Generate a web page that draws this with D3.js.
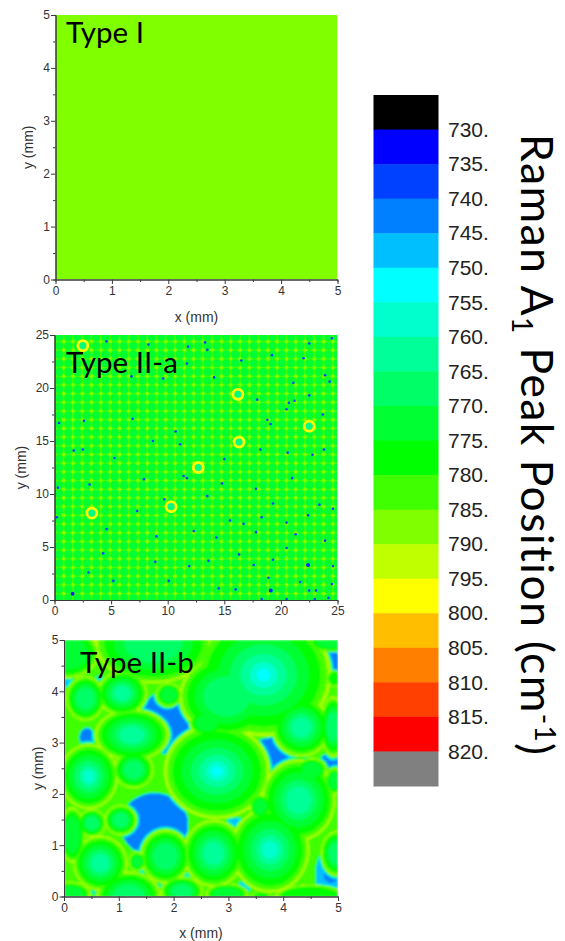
<!DOCTYPE html>
<html>
<head>
<meta charset="utf-8">
<script src="https://d3js.org/d3.v7.min.js"></script>
<style>
  body { margin: 0; background: #fff; }
  svg { display: block; }
  .tick text { font-family: "Liberation Sans", Arial, sans-serif; }
</style>
</head>
<body>
<div id="chart"></div>
<script>
// Colour bar
const bandEdges = [730, 735, 740, 745, 750, 755, 760, 765, 770, 775, 780, 785, 790, 795, 800, 805, 810, 815, 820];
const bandColors = ["#000000", "#0000ff", "#0040ff", "#0080ff", "#00bfff", "#00ffff", "#00ffcc", "#00ff99", "#00ff66",
    "#00ff33", "#00ff00", "#40ff00", "#80ff00", "#bfff00", "#ffff00", "#ffbf00", "#ff8000", "#ff4000", "#ff0000", "#808080"];

// Type I is flat
const typeIValue = 787;

// Type II-a values
const latticeDiscValue = 772;
const latticeBackValue = 782;
const latticeGapValue = 787;
const latticeX = [0.4, 1.22, 2.04, 2.86, 3.68, 4.5, 5.32, 6.14, 6.96, 7.78, 8.6, 9.42, 10.24, 11.06, 11.88,
    12.7, 13.52, 14.34, 15.16, 15.98, 16.8, 17.62, 18.44, 19.26, 20.08, 20.9, 21.72, 22.54, 23.36, 24.18, 25.0];
const latticeY = [0.2, 1.02, 1.84, 2.66, 3.48, 4.3, 5.12, 5.94, 6.76, 7.58, 8.4, 9.22, 10.04, 10.86, 11.68,
    12.5, 13.32, 14.14, 14.96, 15.78, 16.6, 17.42, 18.24, 19.06, 19.88, 20.7, 21.52, 22.34, 23.16, 23.98, 24.8];
const ringCenters = [[2.5, 24], [3.3, 8.2], [10.3, 8.8], [12.7, 12.5], [16.2, 19.4], [16.3, 14.9], [22.5, 16.4]];
const specks = [[4.6, 24.4], [8.3, 24.1], [11.8, 23.9], [13.3, 24.3], [13.5, 23.6], [22.5, 24.2], [24.5, 24.7], [11.7, 22.3],
    [16.5, 22.6], [19.2, 23.1], [22.0, 22.8], [23.9, 21.2], [14.1, 21.0], [6.8, 21.1], [9.6, 20.9], [21.1, 20.5], [24.3, 20.6],
    [22.5, 19.3], [20.5, 18.0], [21.2, 18.8], [17.9, 18.9], [23.7, 17.5], [0.4, 16.7], [2.6, 16.9], [6.9, 17.1], [10.7, 15.9],
    [18.8, 17.0], [19.1, 16.6], [20.7, 18.6], [2.5, 14.2], [1.7, 14.1], [5.3, 13.4], [8.7, 15.0], [11.1, 14.7], [15.0, 13.3],
    [18.2, 14.2], [20.6, 13.9], [22.8, 13.7], [23.8, 14.2], [11.4, 11.7], [11.7, 11.5], [7.9, 11.4], [14.8, 11.0], [17.8, 10.5],
    [21.0, 11.5], [0.3, 10.6], [3.1, 10.9], [9.7, 9.5], [13.5, 9.8], [19.3, 9.1], [23.4, 9.0], [0.2, 7.8], [4.6, 6.7], [7.3, 8.4],
    [15.5, 7.5], [16.7, 7.2], [18.3, 7.8], [20.5, 7.3], [22.4, 8.0], [24.6, 8.6], [9.0, 6.0], [12.3, 6.5], [14.3, 5.9], [17.8, 6.4],
    [21.3, 6.2], [23.9, 5.6], [8.9, 3.6], [4.3, 4.4], [11.9, 3.2], [13.6, 3.7], [16.3, 4.3], [17.6, 3.3], [19.3, 3.8], [20.5, 4.9],
    [24.6, 3.2], [10.1, 1.8], [14.5, 1.1], [16.0, 1.0], [18.9, 2.1], [21.7, 1.7], [22.5, 0.9], [23.1, 0.9], [24.5, 1.5],
    [5.2, 1.8], [18.3, 0.1], [20.5, 0.1], [23.0, 0.1], [24.2, 0.2], [3.0, 2.6]];
const deepSpecks = [[22.4, 3.3], [19.1, 0.9], [1.6, 0.6]];

// Type II-b grains: x, y, x radius, y radius, centre value
const grains = [
    [3.64, 4.32, 1.22, 1.18, 752], [2.97, 3.90, 0.85, 0.78, 765], [2.79, 2.44, 0.95, 0.91, 751], [4.33, 3.30, 0.52, 0.56, 762],
    [4.28, 1.88, 0.66, 0.78, 760], [3.76, 0.91, 0.70, 0.82, 757], [2.73, 0.84, 0.54, 0.64, 762], [1.85, 0.78, 0.44, 0.51, 765],
    [0.66, 0.65, 0.48, 0.52, 760], [0.45, 2.34, 0.52, 0.62, 758], [1.24, 3.15, 0.66, 0.49, 760], [1.06, 3.96, 0.44, 0.42, 763],
    [0.39, 3.86, 0.34, 0.42, 765], [1.27, 2.47, 0.35, 0.35, 767], [1.03, 1.49, 0.28, 0.28, 768], [0.51, 1.43, 0.24, 0.26, 768],
    [1.91, 3.93, 0.22, 0.22, 770], [4.52, 2.47, 0.26, 0.22, 770], [3.58, 1.75, 0.18, 0.22, 770], [1.63, 4.94, 1.05, 0.77, 768],
    [0.05, 4.74, 0.57, 0.47, 770], [4.97, 0.84, 0.27, 0.42, 765], [4.91, 3.31, 0.22, 0.57, 768], [1.18, 0.00, 0.57, 0.47, 768],
    [2.15, 0.10, 0.37, 0.27, 768], [2.97, 0.05, 0.37, 0.19, 770], [4.49, 0.00, 0.62, 0.22, 775], [0.15, 1.20, 0.22, 0.52, 770],
    [1.33, 0.68, 0.14, 0.18, 772], [2.60, 3.38, 0.30, 0.24, 770], [4.90, 4.95, 0.42, 0.17, 772], [0.10, 0.05, 0.37, 0.22, 772],
    [4.93, 2.25, 0.15, 0.24, 770], [4.93, 4.25, 0.12, 0.15, 775], [3.6, 0.0, 0.17, 0.09, 775]
];
// Value between grains, and the gaps that drop to blue: x, y, x radius, y radius, value
const matrixValue = 784;
const gaps = [[1.88, 3.4, 0.50, 0.62, 742], [1.65, 1.4, 0.62, 0.62, 742], [3.9, 2.7, 0.58, 0.42, 742], [0.42, 3.1, 0.14, 0.19, 744],
    [4.9, 4.55, 0.24, 0.30, 742], [4.9, 2.65, 0.24, 0.14, 742], [4.85, 0.42, 0.26, 0.55, 747], [4.87, 0.42, 0.13, 0.15, 742],
    [0.08, 4.2, 0.12, 0.12, 747], [0.65, 0.1, 0.18, 0.07, 742], [1.75, 0.12, 0.1, 0.18, 744], [1.5, 0.5, 0.17, 0.1, 742],
    [3.15, 1.45, 0.18, 0.09, 747], [3.3, 0.2, 0.12, 0.12, 747], [0.5, 4.9, 0.12, 0.1, 742], [0.65, 4.2, 0.12, 0.09, 742],
    [2.25, 0.4, 0.1, 0.1, 747], [3.95, 0.07, 0.12, 0.06, 747], [0.2, 1.83, 0.06, 0.04, 744]];
const rimStops = [0, 0.25, 0.5, 0.75, 0.92, 0.98, 1];
const rimValues = [750, 762, 770, 777, 782, 789, 796];

const width = 565, height = 941;

const band = d3.scaleThreshold().domain(bandEdges).range(bandColors);

const svg = d3.select("#chart")
    .append("svg")
    .attr("width", width)
    .attr("height", height);

const defs = svg.append("defs");
function softFilter(id, amount) {
    defs.append("filter").attr("id", id)
        .attr("x", 0).attr("y", 0).attr("width", 1).attr("height", 1)
        .append("feGaussianBlur").attr("stdDeviation", amount);
}
softFilter("softLattice", 0.7);
softFilter("softGrains", 1);

// Frame, axes and labels for one panel
function panel(box, maxVal, major, minor, xTitleY, yTitleX) {
    const x = d3.scaleLinear().domain([0, maxVal]).range([box.left, box.right]);
    const y = d3.scaleLinear().domain([0, maxVal]).range([box.bottom, box.top]);
    const g = svg.append("g");
    const plot = g.append("g");

    const clipId = "clip" + box.top;
    defs.append("clipPath").attr("id", clipId)
        .append("rect")
        .attr("x", box.left).attr("y", box.top)
        .attr("width", box.right - box.left).attr("height", box.bottom - box.top);
    plot.attr("clip-path", `url(#${clipId})`);

    const axes = g.append("g");
    const styleAxis = sel => {
        sel.selectAll("path, line").attr("stroke", "#3a3a3a");
        sel.selectAll("text").attr("fill", "#333").style("font-size", "12px");
    };
    axes.append("g").attr("transform", `translate(0,${box.bottom})`)
        .call(d3.axisBottom(x).tickValues(minor).tickSize(2.5).tickFormat(""))
        .call(styleAxis);
    axes.append("g").attr("transform", `translate(0,${box.bottom})`)
        .call(d3.axisBottom(x).tickValues(major).tickSize(4.5).tickPadding(2).tickSizeOuter(0).tickFormat(d3.format("d")))
        .call(styleAxis);
    axes.append("g").attr("transform", `translate(${box.left},0)`)
        .call(d3.axisLeft(y).tickValues(minor).tickSize(2.5).tickFormat(""))
        .call(styleAxis);
    axes.append("g").attr("transform", `translate(${box.left},0)`)
        .call(d3.axisLeft(y).tickValues(major).tickSize(4.5).tickPadding(1).tickSizeOuter(0).tickFormat(d3.format("d")))
        .call(styleAxis);

    const axisLabel = g.append("g")
        .attr("font-family", "Liberation Sans, Arial, sans-serif")
        .attr("font-size", 14)
        .attr("fill", "#333")
        .attr("text-anchor", "middle");
    if (xTitleY) {
        axisLabel.append("text")
            .attr("x", (box.left + box.right) / 2).attr("y", xTitleY)
            .text("x (mm)");
    }
    axisLabel.append("text")
        .attr("transform", `translate(${yTitleX},${(box.top + box.bottom) / 2}) rotate(-90)`)
        .text("y (mm)");

    return { x, y, plot, box };
}

function typeLabel(text, px, py) {
    svg.append("text")
        .attr("x", px).attr("y", py)
        .attr("font-family", "Lato, sans-serif")
        .attr("font-size", 29.5)
        .attr("fill", "#000")
        .text(text);
}

// Type I
const p1 = panel({ left: 55.5, right: 337.5, top: 15, bottom: 279.5 }, 5,
    [0, 1, 2, 3, 4, 5], [0.5, 1.5, 2.5, 3.5, 4.5], 322, 33);
p1.plot.append("rect")
    .attr("x", p1.x(0)).attr("y", p1.y(5))
    .attr("width", p1.x(5) - p1.x(0)).attr("height", p1.y(0) - p1.y(5))
    .attr("fill", band(typeIValue));
typeLabel("Type I", 66, 43);

// Type II-a
const p2 = panel({ left: 54.5, right: 337.5, top: 335, bottom: 600 }, 25,
    [0, 5, 10, 15, 20, 25], [2.5, 7.5, 12.5, 17.5, 22.5], null, 26);
const p2Soft = p2.plot.append("g").attr("filter", "url(#softLattice)");
p2Soft.append("rect")
    .attr("x", p2.x(0)).attr("y", p2.y(25))
    .attr("width", p2.x(25) - p2.x(0)).attr("height", p2.y(0) - p2.y(25))
    .attr("fill", band(latticeBackValue));

const lattice = d3.cross(latticeX, latticeY);
// the light crossings sit half a pitch off the disc centres
const pitchX = p2.x(latticeX[1]) - p2.x(latticeX[0]);
const pitchY = p2.y(latticeY[0]) - p2.y(latticeY[1]);
p2Soft.selectAll("circle.gap")
    .data(lattice)
    .enter()
    .append("circle")
    .attr("class", "gap")
    .attr("cx", d => p2.x(d[0]) + pitchX / 2)
    .attr("cy", d => p2.y(d[1]) + pitchY / 2)
    .attr("r", 1.8)
    .attr("fill", band(latticeGapValue));
p2Soft.selectAll("circle.disc")
    .data(lattice)
    .enter()
    .append("circle")
    .attr("class", "disc")
    .attr("cx", d => p2.x(d[0]))
    .attr("cy", d => p2.y(d[1]))
    .attr("r", 3.9)
    .attr("fill", band(latticeDiscValue));
p2Soft.selectAll("circle.speck")
    .data(specks)
    .enter()
    .append("circle")
    .attr("class", "speck")
    .attr("cx", d => p2.x(d[0]))
    .attr("cy", d => p2.y(d[1]))
    .attr("r", 1.3)
    .attr("fill", "#0040ff");
p2Soft.selectAll("circle.deep")
    .data(deepSpecks)
    .enter()
    .append("circle")
    .attr("class", "deep")
    .attr("cx", d => p2.x(d[0]))
    .attr("cy", d => p2.y(d[1]))
    .attr("r", 2)
    .attr("fill", "#0020ff");
p2Soft.selectAll("circle.ring")
    .data(ringCenters)
    .enter()
    .append("circle")
    .attr("class", "ring")
    .attr("cx", d => p2.x(d[0]))
    .attr("cy", d => p2.y(d[1]))
    .attr("r", 5)
    .attr("fill", "#00ff80")
    .attr("stroke", "#ffff00")
    .attr("stroke-width", 2.8);
typeLabel("Type II-a", 66, 373);

// Type II-b
const p3 = panel({ left: 64, right: 338, top: 640, bottom: 896.5 }, 5,
    [0, 1, 2, 3, 4, 5], [0.5, 1.5, 2.5, 3.5, 4.5], 938, 43);

const rim = d3.scaleLinear().domain(rimStops).range(rimValues);
const nx = Math.round(p3.x(5) - p3.x(0));
const ny = Math.round(p3.y(0) - p3.y(5));
const field = new Float64Array(nx * ny);
const pxPerMm = (p3.x(1) - p3.x(0) + p3.y(0) - p3.y(1)) / 2;

// each pixel takes its value from the grain it lies deepest in
for (let j = 0; j < ny; j++) {
    for (let i = 0; i < nx; i++) {
        const mx = p3.x.invert(p3.box.left + i + 0.5);
        const my = p3.y.invert(p3.box.top + j + 0.5);
        let best = Infinity, peak = 0, size = 1;
        grains.forEach(g => {
            const d = Math.hypot((mx - g[0]) / g[2], (my - g[1]) / g[3]);
            if (d < best) { best = d; peak = g[4]; size = (g[2] + g[3]) / 2; }
        });
        let floor = matrixValue;
        gaps.forEach(p => {
            if (Math.hypot((mx - p[0]) / p[2], (my - p[1]) / p[3]) < 1) floor = p[4];
        });
        let v;
        if (best <= 1) {
            v = Math.max(peak, rim(best));
        } else {
            v = Math.max(floor, 796 - (best - 1) * size * pxPerMm * 15);
        }
        field[j * nx + i] = v;
    }
}

const contours = d3.contours().size([nx, ny]).thresholds(bandEdges)(field);
const contourPath = d3.geoPath(d3.geoIdentity().translate([p3.box.left, p3.box.top]));
const p3Soft = p3.plot.append("g").attr("filter", "url(#softGrains)");
p3Soft.append("rect")
    .attr("x", p3.x(0)).attr("y", p3.y(5))
    .attr("width", nx).attr("height", ny)
    .attr("fill", band(742));
p3Soft.selectAll("path")
    .data(contours)
    .enter()
    .append("path")
    .attr("d", contourPath)
    .attr("fill", d => band(d.value));
typeLabel("Type II-b", 80, 673);

// Colour bar
const barY = d3.scaleLinear()
    .domain([d3.min(bandEdges) - 5, d3.max(bandEdges) + 5])
    .range([95, 786]);
svg.append("g")
    .selectAll("rect")
    .data(bandColors)
    .enter()
    .append("rect")
    .attr("x", 373.5)
    .attr("y", (d, i) => barY(725 + i * 5))
    .attr("width", 65)
    .attr("height", barY(730) - barY(725) + 0.5)
    .attr("fill", d => d);

const barAxis = svg.append("g")
    .attr("transform", "translate(438,0)")
    .call(d3.axisRight(barY).tickValues(bandEdges).tickSize(0).tickPadding(10).tickFormat(d => d + "."));
barAxis.select(".domain").remove();
barAxis.selectAll("text").attr("fill", "#222").style("font-size", "21px");

// Colour bar title
const title = svg.append("text")
    .attr("transform", "translate(521,134) rotate(90)")
    .attr("font-family", "Lato, sans-serif")
    .attr("font-size", 44.5)
    .attr("letter-spacing", 1.4)
    .attr("fill", "#000");
title.append("tspan").text("Raman A");
title.append("tspan").attr("dy", 9).attr("font-size", 28).text("1");
title.append("tspan").attr("dy", -9).text(" Peak Position (cm");
title.append("tspan").attr("dy", -14).attr("font-size", 28).text("-1");
title.append("tspan").attr("dy", 14).text(")");
</script>
</body>
</html>
